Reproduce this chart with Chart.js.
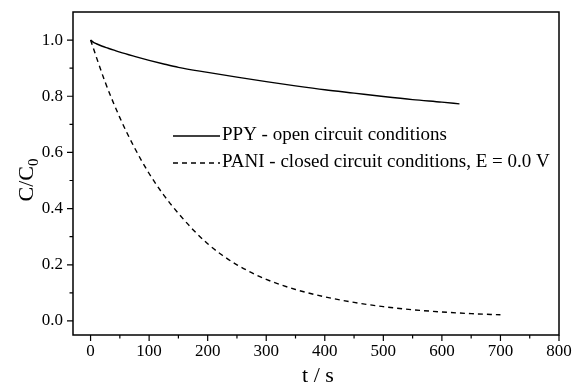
<!DOCTYPE html>
<html>
<head>
<meta charset="utf-8">
<script src="https://cdn.jsdelivr.net/npm/chart.js@4"></script>
<style>
  body { margin: 0; background: #fff; }
  #wrap { width: 575px; height: 385px; }
</style>
</head>
<body>
<div id="wrap"><canvas id="chart" width="575" height="385"></canvas></div>
<script>
// PPY - open circuit
const ppyTime  = [0, 5, 10, 20, 30, 40, 50, 75, 100, 125, 150, 200, 250, 300, 350, 400, 450, 500, 550, 600, 630];
const ppyRatio = [1.0, 0.992, 0.987, 0.978, 0.971, 0.964, 0.957, 0.942, 0.928, 0.915, 0.903, 0.885, 0.868, 0.852, 0.837, 0.823, 0.811, 0.799, 0.788, 0.779, 0.773];

// PANI - closed circuit, E = 0.0 V
const paniTime  = [0, 25, 50, 75, 100, 125, 150, 175, 200, 225, 250, 275, 300, 350, 400, 450, 500, 550, 600, 650, 700];
const paniRatio = [1.0, 0.85, 0.724, 0.617, 0.525, 0.448, 0.383, 0.325, 0.275, 0.234, 0.200, 0.172, 0.148, 0.112, 0.086, 0.066, 0.051, 0.040, 0.032, 0.026, 0.022];

// axis ticks
const xMajor = [0, 100, 200, 300, 400, 500, 600, 700, 800];
const xMinor = [50, 150, 250, 350, 450, 550, 650, 750];
const yMajor = [0.0, 0.2, 0.4, 0.6, 0.8, 1.0];
const yMinor = [0.1, 0.3, 0.5, 0.7, 0.9];

const serif = '"Liberation Serif", "DejaVu Serif", serif';

function toXY(xs, ys) {
    return xs.map((x, i) => ({ x: x, y: ys[i] }));
}

function noPad(s) {
    s.paddingLeft = 0;
    s.paddingRight = 0;
    s.paddingTop = 0;
    s.paddingBottom = 0;
}

// frame, tick marks, axis titles and legend
const framePlugin = {
    id: 'frame',
    afterDraw(chart) {
        const ctx = chart.ctx;
        const a = chart.chartArea;
        const xs = chart.scales.x;
        const ys = chart.scales.y;
        ctx.save();
        ctx.strokeStyle = '#000';
        ctx.lineWidth = 1.5;
        ctx.strokeRect(a.left, a.top, a.right - a.left, a.bottom - a.top);

        ctx.lineWidth = 1.2;
        ctx.beginPath();
        xMajor.forEach(v => { const p = xs.getPixelForValue(v); ctx.moveTo(p, a.bottom); ctx.lineTo(p, a.bottom + 6); });
        xMinor.forEach(v => { const p = xs.getPixelForValue(v); ctx.moveTo(p, a.bottom); ctx.lineTo(p, a.bottom + 3.5); });
        yMajor.forEach(v => { const p = ys.getPixelForValue(v); ctx.moveTo(a.left, p); ctx.lineTo(a.left - 6, p); });
        yMinor.forEach(v => { const p = ys.getPixelForValue(v); ctx.moveTo(a.left, p); ctx.lineTo(a.left - 3.5, p); });
        ctx.stroke();

        // x title
        ctx.fillStyle = '#000';
        ctx.font = '22px ' + serif;
        ctx.textAlign = 'center';
        ctx.textBaseline = 'alphabetic';
        ctx.fillText('t / s', 318, 382);

        // y title C/C0
        ctx.save();
        ctx.translate(33, 180);
        ctx.rotate(-Math.PI / 2);
        ctx.textAlign = 'left';
        const main = 'C/C';
        ctx.font = '22px ' + serif;
        const wMain = ctx.measureText(main).width;
        ctx.font = '15px ' + serif;
        const wSub = ctx.measureText('0').width;
        const start = -(wMain + wSub) / 2;
        ctx.font = '22px ' + serif;
        ctx.fillText(main, start, 0);
        ctx.font = '15px ' + serif;
        ctx.fillText('0', start + wMain, 5);
        ctx.restore();

        // legend
        ctx.font = '19px ' + serif;
        ctx.textAlign = 'left';
        ctx.textBaseline = 'alphabetic';
        const rows = [136, 163];
        chart.data.datasets.forEach((ds, i) => {
            const y = rows[i];
            ctx.lineWidth = 1.4;
            ctx.setLineDash(ds.borderDash || []);
            ctx.beginPath();
            ctx.moveTo(173, y);
            ctx.lineTo(220, y);
            ctx.stroke();
            ctx.setLineDash([]);
            ctx.fillText(ds.label, 222, y + 4);
        });
        ctx.restore();
    }
};

new Chart(document.getElementById('chart').getContext('2d'), {
    type: 'line',
    data: {
        datasets: [
            {
                label: 'PPY - open circuit conditions',
                data: toXY(ppyTime, ppyRatio),
                borderColor: '#000',
                borderWidth: 1.4,
                pointRadius: 0,
                cubicInterpolationMode: 'monotone'
            },
            {
                label: 'PANI - closed circuit conditions, E = 0.0 V',
                data: toXY(paniTime, paniRatio),
                borderColor: '#000',
                borderWidth: 1.4,
                borderDash: [5, 4],
                pointRadius: 0,
                cubicInterpolationMode: 'monotone'
            }
        ]
    },
    options: {
        responsive: false,
        animation: false,
        layout: { padding: { top: 12, right: 16, left: 0, bottom: 0 } },
        plugins: {
            legend: { display: false },
            tooltip: { enabled: false }
        },
        scales: {
            x: {
                type: 'linear',
                min: -30,
                max: 800,
                grid: { display: false, drawTicks: false },
                border: { display: false },
                afterBuildTicks: s => { s.ticks = xMajor.map(v => ({ value: v })); },
                afterFit: s => { s.height = 50; noPad(s); },
                ticks: {
                    padding: 6,
                    maxRotation: 0,
                    color: '#000',
                    font: { family: serif, size: 17 },
                    callback: v => String(v)
                }
            },
            y: {
                type: 'linear',
                min: -0.05,
                max: 1.1,
                grid: { display: false, drawTicks: false },
                border: { display: false },
                afterBuildTicks: s => { s.ticks = yMajor.map(v => ({ value: v })); },
                afterFit: s => { s.width = 73; noPad(s); },
                ticks: {
                    padding: 10,
                    color: '#000',
                    font: { family: serif, size: 17 },
                    callback: v => Number(v).toFixed(1)
                }
            }
        }
    },
    plugins: [framePlugin]
});
</script>
</body>
</html>
